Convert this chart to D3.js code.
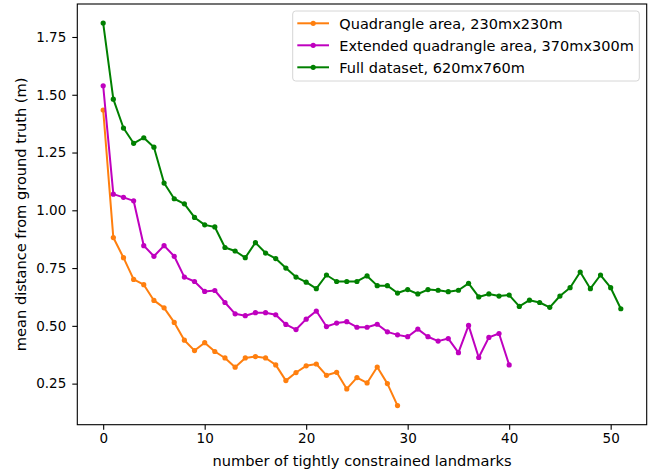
<!DOCTYPE html>
<html>
<head>
  <meta charset="utf-8">
  <script src="https://d3js.org/d3.v7.min.js"></script>
  <style>
    body { margin: 0; background: #fff; }
    svg text { font-family: "DejaVu Sans", sans-serif; fill: #000; }
    .line { fill: none; stroke-width: 2; stroke-linejoin: round; }
    .axis path, .axis line { stroke: #000; stroke-width: 1.1; }
  </style>
</head>
<body>
  <div class="chart"></div>
  <script>
    // values
    const quadValues = [1.434, 0.882, 0.795, 0.701, 0.678, 0.610, 0.578, 0.515, 0.438, 0.393,
      0.427, 0.389, 0.361, 0.321, 0.361, 0.367, 0.361, 0.331, 0.263, 0.298,
      0.327, 0.335, 0.286, 0.299, 0.227, 0.276, 0.253, 0.322, 0.250, 0.155];

    const extValues = [1.539, 1.070, 1.056, 1.041, 0.847, 0.801, 0.847, 0.801, 0.711, 0.692,
      0.649, 0.653, 0.601, 0.552, 0.544, 0.557, 0.557, 0.548, 0.506, 0.484,
      0.529, 0.564, 0.497, 0.512, 0.518, 0.494, 0.494, 0.507, 0.474, 0.461,
      0.453, 0.486, 0.453, 0.434, 0.445, 0.384, 0.502, 0.363, 0.450, 0.467, 0.331];

    const fullValues = [1.810, 1.481, 1.356, 1.290, 1.314, 1.273, 1.118, 1.050, 1.028, 0.969,
      0.937, 0.928, 0.839, 0.824, 0.795, 0.860, 0.815, 0.791, 0.750, 0.711,
      0.689, 0.661, 0.720, 0.692, 0.692, 0.692, 0.716, 0.674, 0.674, 0.642,
      0.657, 0.638, 0.657, 0.654, 0.648, 0.654, 0.684, 0.625, 0.638, 0.629,
      0.633, 0.584, 0.611, 0.601, 0.580, 0.629, 0.665, 0.733, 0.661, 0.720,
      0.665, 0.574];

    const seriesNames = ["Quadrangle area, 230mx230m",
      "Extended quadrangle area, 370mx300m",
      "Full dataset, 620mx760m"];
    const seriesColors = ["#ff7f0e", "#bf00bf", "#008000"];

    const xTicks = [0, 10, 20, 30, 40, 50];
    const yTicks = [0.25, 0.50, 0.75, 1.00, 1.25, 1.50, 1.75];

    const series = [quadValues, extValues, fullValues].map((vals, k) => ({
      name: seriesNames[k],
      color: seriesColors[k],
      points: vals.map((v, i) => ({ x: i, y: v }))
    }));

    const width = 660, height = 470;
    const plotLeft = 77.3, plotRight = 646.7, plotTop = 4, plotBottom = 424.7;

    const svg = d3.select(".chart").append("svg")
      .attr("width", width)
      .attr("height", height);

    // matplotlib style 5% margins
    const allPts = series.flatMap(s => s.points);
    const xExt = d3.extent(allPts, d => d.x);
    const yExt = d3.extent(allPts, d => d.y);
    const xPad = (xExt[1] - xExt[0]) * 0.05;
    const yPad = (yExt[1] - yExt[0]) * 0.05;

    const xScale = d3.scaleLinear()
      .domain([xExt[0] - xPad, xExt[1] + xPad])
      .range([plotLeft, plotRight]);

    const yScale = d3.scaleLinear()
      .domain([yExt[0] - yPad, yExt[1] + yPad])
      .range([plotBottom, plotTop]);

    const line = d3.line()
      .x(d => xScale(d.x))
      .y(d => yScale(d.y));

    // axes
    svg.append("g")
      .attr("class", "axis")
      .attr("transform", `translate(0,${plotBottom})`)
      .call(d3.axisBottom(xScale).tickValues(xTicks).tickSize(5).tickPadding(4).tickFormat(d3.format("d")))
      .call(g => g.select(".domain").remove())
      .selectAll("text").attr("font-size", 13.5);

    svg.append("g")
      .attr("class", "axis")
      .attr("transform", `translate(${plotLeft},0)`)
      .call(d3.axisLeft(yScale).tickValues(yTicks).tickSize(5).tickPadding(6).tickFormat(d3.format(".2f")))
      .call(g => g.select(".domain").remove())
      .selectAll("text").attr("font-size", 13.5);

    // frame
    svg.append("rect")
      .attr("x", plotLeft)
      .attr("y", plotTop)
      .attr("width", plotRight - plotLeft)
      .attr("height", plotBottom - plotTop)
      .attr("fill", "none")
      .attr("stroke", "#000")
      .attr("stroke-width", 1.1);

    // lines + markers
    series.forEach(s => {
      svg.append("path")
        .datum(s.points)
        .attr("class", "line")
        .attr("stroke", s.color)
        .attr("d", line);

      svg.append("g")
        .selectAll("circle")
        .data(s.points)
        .join("circle")
        .attr("cx", d => xScale(d.x))
        .attr("cy", d => yScale(d.y))
        .attr("r", 2.6)
        .attr("fill", s.color);
    });

    // axis labels
    svg.append("text")
      .attr("x", (plotLeft + plotRight) / 2)
      .attr("y", 466)
      .attr("text-anchor", "middle")
      .attr("font-size", 14.6)
      .text("number of tightly constrained landmarks");

    svg.append("text")
      .attr("transform", `translate(26,${(plotTop + plotBottom) / 2}) rotate(-90)`)
      .attr("text-anchor", "middle")
      .attr("font-size", 14.6)
      .text("mean distance from ground truth (m)");

    // legend
    const legend = svg.append("g");
    legend.append("rect")
      .attr("x", 292.7)
      .attr("y", 11)
      .attr("width", 639.3 - 292.7)
      .attr("height", 70)
      .attr("rx", 3)
      .attr("fill", "#fff")
      .attr("fill-opacity", 0.8)
      .attr("stroke", "#d6d6d6")
      .attr("stroke-width", 1);

    series.forEach((s, k) => {
      const yy = 23.3 + k * 22;
      legend.append("line")
        .attr("x1", 297.3).attr("x2", 329)
        .attr("y1", yy).attr("y2", yy)
        .attr("stroke", s.color)
        .attr("stroke-width", 2);
      legend.append("circle")
        .attr("cx", 313.2).attr("cy", yy)
        .attr("r", 2.6)
        .attr("fill", s.color);
      legend.append("text")
        .attr("x", 339.3)
        .attr("y", yy)
        .attr("dy", "0.36em")
        .attr("font-size", 14.5)
        .text(s.name);
    });
  </script>
</body>
</html>
